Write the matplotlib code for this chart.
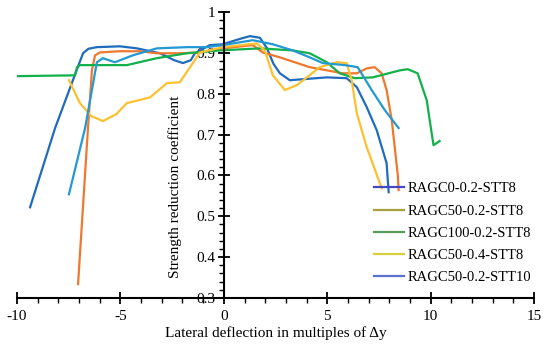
import numpy as np
import matplotlib
matplotlib.use("Agg")
import matplotlib.pyplot as plt
from matplotlib.lines import Line2D
from matplotlib.ticker import MultipleLocator

plt.rcParams['font.family'] = ['Liberation Serif', 'DejaVu Serif']
plt.rcParams['axes.unicode_minus'] = False

# series (x in multiples of dy, y = reduction coefficient)
x_c0 = [-9.37, -8.16, -7.10, -6.81, -6.55, -6.14, -5.02, -4.20, -3.09, -2.40, -1.98, -1.60,
        -1.40, -0.68, -0.05, 0.70, 1.26, 1.74, 2.08, 2.40, 2.71, 3.19, 4.98, 5.94, 6.43,
        6.91, 7.39, 7.87, 7.97]
y_c0 = [0.522, 0.716, 0.860, 0.899, 0.910, 0.914, 0.916, 0.911, 0.899, 0.882, 0.875, 0.882,
        0.899, 0.919, 0.921, 0.933, 0.941, 0.937, 0.912, 0.873, 0.850, 0.833, 0.840, 0.838, 0.816,
        0.767, 0.711, 0.630, 0.559]

x_c50 = [-7.05, -6.57, -6.38, -6.23, -5.99, -5.02, -4.06, -3.24, -2.13, -1.16, -0.05,
         1.40, 1.88, 2.71, 4.15, 5.75, 6.43, 6.91, 7.29, 7.63, 7.87, 8.12, 8.41, 8.45]
y_c50 = [0.334, 0.716, 0.857, 0.894, 0.901, 0.904, 0.904, 0.899, 0.899, 0.901, 0.911,
         0.919, 0.901, 0.889, 0.865, 0.850, 0.850, 0.862, 0.865, 0.850, 0.809, 0.735, 0.601, 0.564]

x_c100 = [-10.0, -7.20, -7.10, -6.96, -4.69, -3.24, -1.79, -0.19, 1.74, 3.33, 4.15,
          4.98, 5.60, 6.33, 7.20, 8.50, 8.89, 9.37, 9.81, 10.05, 10.14, 10.43]
y_c100 = [0.843, 0.845, 0.865, 0.870, 0.870, 0.887, 0.899, 0.906, 0.911, 0.906, 0.899,
          0.877, 0.850, 0.838, 0.840, 0.857, 0.860, 0.850, 0.784, 0.703, 0.674, 0.684]

x_a04 = [-7.49, -6.96, -6.40, -5.85, -5.20, -4.69, -3.57, -2.75, -2.13, -1.50, -1.16, -0.05,
         1.59, 1.98, 2.37, 2.95, 3.53, 4.64, 5.46, 5.94, 6.18, 6.43, 6.91, 7.54, 7.63]
y_a04 = [0.833, 0.777, 0.745, 0.733, 0.750, 0.777, 0.791, 0.826, 0.828, 0.875, 0.901, 0.914,
         0.923, 0.906, 0.845, 0.809, 0.821, 0.865, 0.877, 0.875, 0.833, 0.752, 0.669, 0.581, 0.569]

x_t10 = [-7.49, -6.71, -6.14, -5.85, -5.27, -4.40, -3.24, -1.79, -0.82, -0.05, 1.40,
         2.37, 3.33, 4.15, 4.78, 5.85, 6.47, 7.15, 7.78, 8.45]
y_t10 = [0.554, 0.716, 0.877, 0.887, 0.877, 0.894, 0.911, 0.914, 0.914, 0.919, 0.931,
         0.921, 0.906, 0.889, 0.875, 0.870, 0.865, 0.809, 0.760, 0.716]

labels = ['RAGC0-0.2-STT8', 'RAGC50-0.2-STT8', 'RAGC100-0.2-STT8',
          'RAGC50-0.4-STT8', 'RAGC50-0.2-STT10']
line_colors = ['#1f6bbd', '#f0772e', '#12b04a', '#fcc12e', '#2299d2']
legend_colors = ['#4646c8', '#a8a040', '#5a9a5a', '#d6d03c', '#5a72c8']

fig = plt.figure(figsize=(5.5, 3.48), dpi=100)
ax = fig.add_axes([0.031, 0.1437, 0.94, 0.8218])

series = [(x_c0, y_c0), (x_c50, y_c50), (x_c100, y_c100), (x_a04, y_a04), (x_t10, y_t10)]
for (xs, ys), c in zip(series, line_colors):
    ax.plot(xs, ys, color=c, lw=1.6, solid_joinstyle='round')

ax.set_xlim(-10, 15)
ax.set_ylim(0.3, 1.0)
ax.spines['left'].set_position(('data', 0))
ax.spines['right'].set_visible(False)
ax.spines['top'].set_visible(False)
for s in ['left', 'bottom']:
    ax.spines[s].set_linewidth(1.5)

ax.xaxis.set_major_locator(MultipleLocator(5))
ax.xaxis.set_minor_locator(MultipleLocator(1))
ax.yaxis.set_minor_locator(MultipleLocator(0.02))
ax.set_yticks(np.arange(0.3, 1.01, 0.1))
ax.set_yticklabels(['0.3', '0.4', '0.5', '0.6', '0.7', '0.8', '0.9', '1'])
ax.tick_params(which='major', direction='inout', length=8, width=1.3, labelsize=11)
ax.tick_params(which='minor', direction='out', length=3.5, width=1.0)
ax.tick_params(axis='y', which='major', pad=2)
ax.tick_params(axis='x', which='major', pad=5)

ax.set_xlabel('Lateral deflection in multiples of \u0394y', fontsize=11, labelpad=2)
ax.text(0.306, 0.39, 'Strength reduction coefficient', transform=ax.transAxes,
        rotation=90, ha='center', va='center', fontsize=11)

handles = [Line2D([0], [0], color=c, lw=1.6) for c in legend_colors]
ax.legend(handles, labels, loc='upper left', bbox_to_anchor=(0.68, 0.425),
          frameon=False, fontsize=10.5, handlelength=2.0, handletextpad=0.3,
          labelspacing=0.62, borderaxespad=0)

fig.savefig('out.png', dpi=100)
